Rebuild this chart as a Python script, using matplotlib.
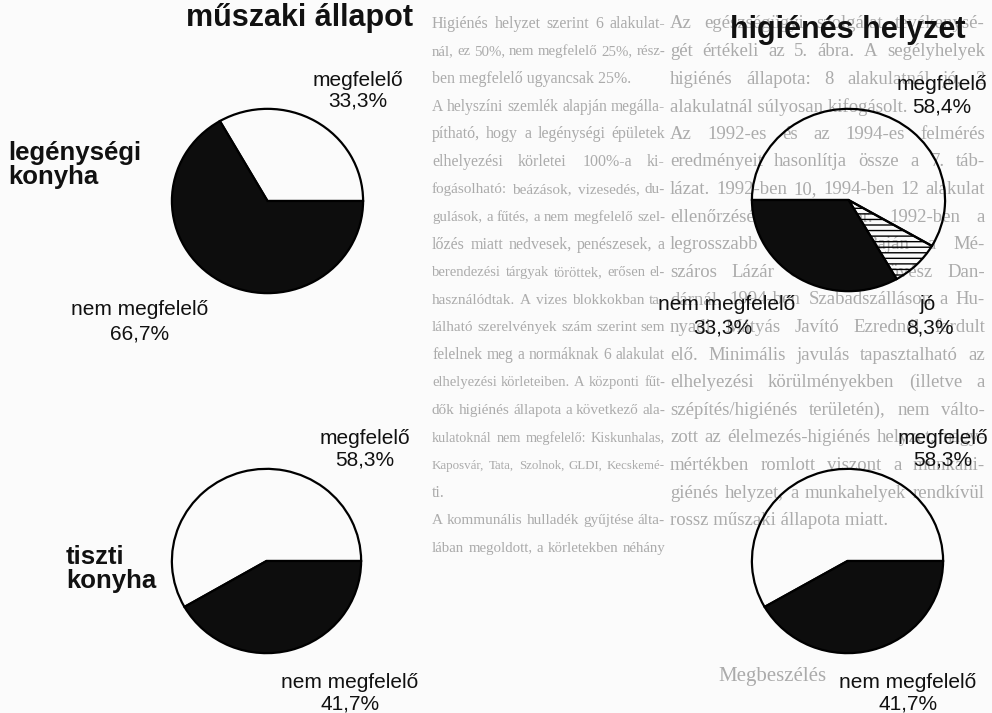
import matplotlib
matplotlib.use('Agg')
from matplotlib import pyplot as plt

W, H = 992, 713

# pie values (percent) and labels
muszaki_legenyseg = [33.3, 66.7]
muszaki_tiszti = [58.3, 41.7]
higienes_legenyseg = [58.4, 8.3, 33.3]
higienes_tiszti = [58.3, 41.7]

titles = ['műszaki állapot', 'higiénés helyzet']
rows = ['legénységi\nkonyha', 'tiszti\nkonyha']

# faint page text showing through the scan
colA = [
  'Higiénés helyzet szerint 6 alakulat-',
  'nál, ez 50%, nem megfelelő 25%, rész-',
  'ben megfelelő ugyancsak 25%.',
  'A helyszíni szemlék alapján megálla-',
  'pítható, hogy a legénységi épületek',
  'elhelyezési körletei 100%-a ki-',
  'fogásolható: beázások, vizesedés, du-',
  'gulások, a fűtés, a nem megfelelő szel-',
  'lőzés miatt nedvesek, penészesek, a',
  'berendezési tárgyak töröttek, erősen el-',
  'használódtak. A vizes blokkokban ta-',
  'lálható szerelvények szám szerint sem',
  'felelnek meg a normáknak 6 alakulat',
  'elhelyezési körleteiben. A központi fűt-',
  'dők higiénés állapota a következő ala-',
  'kulatoknál nem megfelelő: Kiskunhalas,',
  'Kaposvár, Tata, Szolnok, GLDI, Kecskemé-',
  'ti.',
  'A kommunális hulladék gyűjtése álta-',
  'lában megoldott, a körletekben néhány',
]
colA_last = [2, 17]
colB = [
  'Az egészségügyi szolgálat tevékenysé-',
  'gét értékeli az 5. ábra. A segélyhelyek',
  'higiénés állapota: 8 alakulatnál jó, 2',
  'alakulatnál súlyosan kifogásolt.',
  'Az 1992-es és az 1994-es felmérés',
  'eredményeit hasonlítja össze a 7. táb-',
  'lázat. 1992-ben 10, 1994-ben 12 alakulat',
  'ellenőrzésére került sor. 1992-ben a',
  'legrosszabb megítélés Baján a Mé-',
  'száros Lázár Gépesített Lövész Dan-',
  'dárnál, 1994-ben Szabadszálláson a Hu-',
  'nyadi Mátyás Javító Ezrednél fordult',
  'elő. Minimális javulás tapasztalható az',
  'elhelyezési körülményekben (illetve a',
  'szépítés/higiénés területén), nem válto-',
  'zott az élelmezés-higiénés helyzet, nagy-',
  'mértékben romlott viszont a munkahi-',
  'giénés helyzet, a munkahelyek rendkívül',
  'rossz műszaki állapota miatt.',
]
colB_last = [3, 18]

sans = ['Liberation Sans Narrow', 'Liberation Sans', 'DejaVu Sans']
serif = ['Liberation Serif', 'DejaVu Serif']

fig = plt.figure(figsize=(W / 100, H / 100), dpi=100)
fig.patch.set_facecolor('#fbfbfb')

# background axes in pixel coordinates
bg = fig.add_axes([0, 0, 1, 1], zorder=0)
bg.set_xlim(0, W)
bg.set_ylim(H, 0)
bg.axis('off')

def justify(lines, last, x0, x1, y0, step, size):
  r = fig.canvas.get_renderer()
  for i, line in enumerate(lines):
    y = y0 + i * step
    st = dict(family=serif, fontsize=size, color='#ababab', va='center', ha='left')
    words = line.split()
    if i in last or len(words) == 1:
      bg.text(x0, y, line, **st)
      continue
    arts = [bg.text(0, y, w, **st) for w in words]
    widths = [a.get_window_extent(r).width for a in arts]
    # shrink a crowded line a little so words never run together
    s = size
    while sum(widths) + 3.5 * (len(words) - 1) > x1 - x0:
      s -= 0.25
      for a in arts:
        a.set_fontsize(s)
      widths = [a.get_window_extent(r).width for a in arts]
    gap = (x1 - x0 - sum(widths)) / (len(words) - 1)
    x = x0
    for a, w in zip(arts, widths):
      a.set_x(x)
      x += w + gap

justify(colA, colA_last, 432, 665, 24, 27.6, 11.5)
justify(colB, colB_last, 670, 985, 24, 27.6, 13.5)
bg.text(772, 676, 'Megbeszélés', family=serif, fontsize=15, color='#ababab',
        ha='center', va='center')

def pie_axes(l, t, r, b):
  ax = fig.add_axes([l / W, 1 - b / H, (r - l) / W, (b - t) / H], zorder=2)
  ax.patch.set_visible(False)
  return ax

def draw_pie(ax, values, start, ccw, faces, hatches):
  wedges, _ = ax.pie(values, startangle=start, counterclock=ccw, radius=1,
                     colors=faces,
                     wedgeprops=dict(edgecolor='black', linewidth=1.6))
  for w, h in zip(wedges, hatches):
    if h:
      w.set_hatch(h)
  ax.set_aspect('auto')
  ax.set_xlim(-1.02, 1.02)
  ax.set_ylim(-1.02, 1.02)
  ax.axis('off')

plt.rcParams['hatch.linewidth'] = 1.0
blk = '#0d0d0d'

draw_pie(pie_axes(170, 107, 365, 295), muszaki_legenyseg, 0, True,
         ['none', blk], [None, None])
draw_pie(pie_axes(750, 107, 947, 293), higienes_legenyseg, 180, False,
         ['none', 'none', blk], [None, '---', None])
draw_pie(pie_axes(170, 467, 363, 655), muszaki_tiszti, 0, True,
         ['none', blk], [None, None])
draw_pie(pie_axes(750, 467, 945, 655), higienes_tiszti, 0, True,
         ['none', blk], [None, None])

def label(x, y, s, size=15, weight='normal', ha='center'):
  fig.text(x / W, 1 - y / H, s, family=sans, fontsize=size, fontweight=weight,
           ha=ha, va='center', color='#111111', linespacing=1.05, zorder=5)

# titles and row labels
label(300, 18, titles[0], size=22, weight='bold')
label(848, 30, titles[1], size=22, weight='bold')
label(8, 165, rows[0], size=18.5, weight='bold', ha='left')
label(66, 569, rows[1], size=18.5, weight='bold', ha='left')

# slice labels
label(358, 80, 'megfelelő')
label(358, 101, '33,3%')
label(140, 310, 'nem megfelelő')
label(140, 334, '66,7%')

label(942, 84, 'megfelelő')
label(942, 107, '58,4%')
label(727, 305, 'nem megfelelő')
label(723, 328, '33,3%')
label(928, 305, 'jó')
label(930, 328, '8,3%')

label(365, 438, 'megfelelő')
label(365, 460, '58,3%')
label(350, 682, 'nem megfelelő')
label(350, 704, '41,7%')

label(943, 438, 'megfelelő')
label(943, 460, '58,3%')
label(908, 682, 'nem megfelelő')
label(908, 704, '41,7%')

fig.savefig('out.png', dpi=100, facecolor=fig.get_facecolor())
